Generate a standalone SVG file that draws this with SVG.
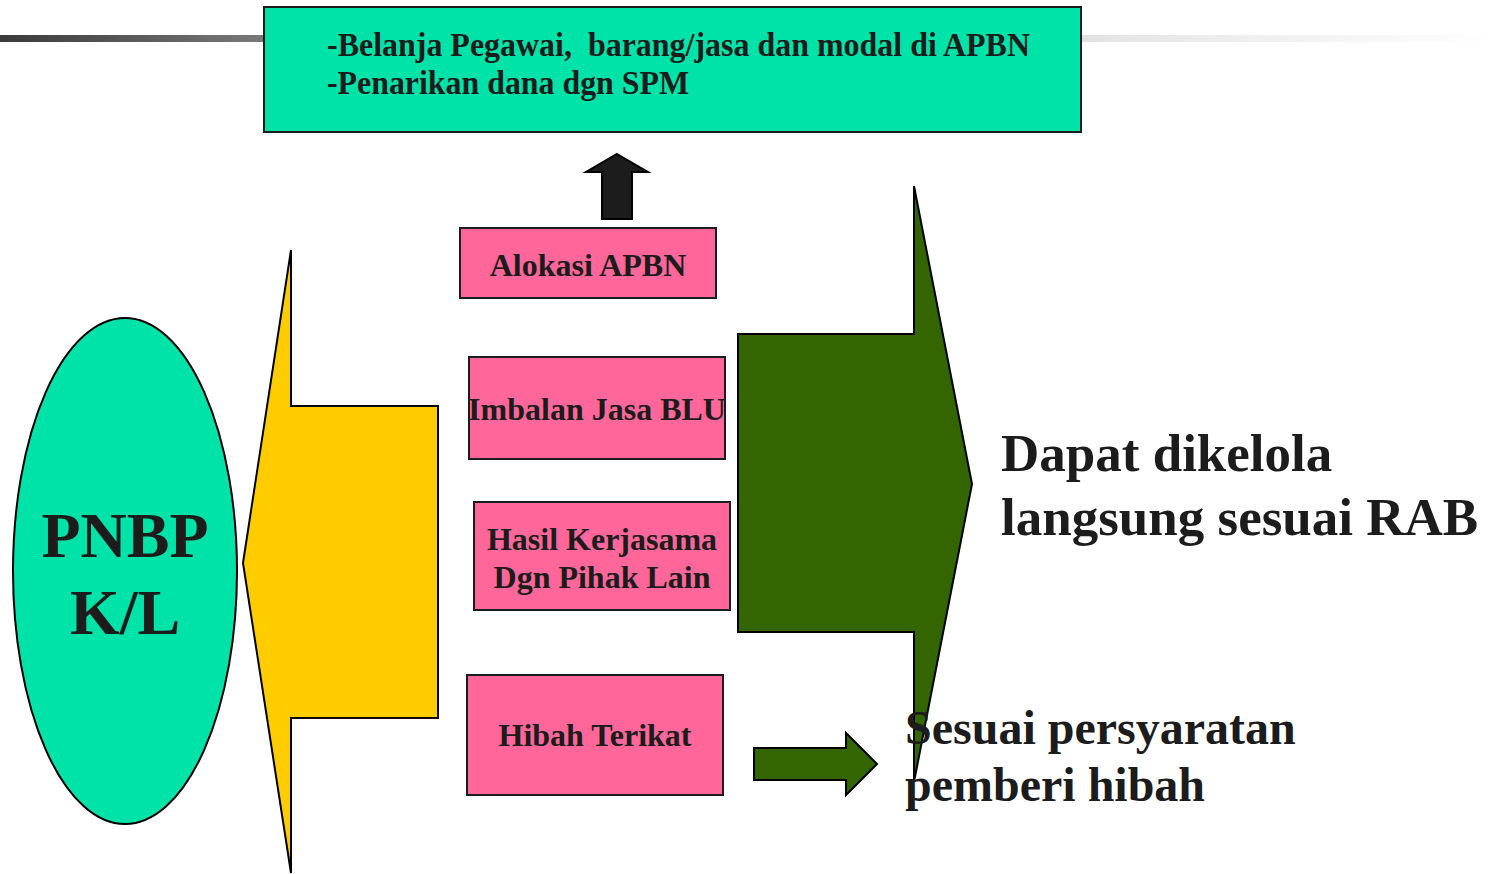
<svg xmlns="http://www.w3.org/2000/svg" width="1497" height="874" viewBox="0 0 1497 874">
<defs>
<linearGradient id="bar" x1="0" y1="0" x2="1" y2="0">
<stop offset="0" stop-color="#3a3a3a"/>
<stop offset="0.18" stop-color="#7a7a7a"/>
<stop offset="0.75" stop-color="#e6e6e6"/>
<stop offset="1" stop-color="#ffffff"/>
</linearGradient>
</defs>
<style>
.t{font-family:"Liberation Serif","Times New Roman",serif;font-weight:bold;fill:#1c1c1c}
.pink{fill:#ff6699;stroke:#1c1c1c;stroke-width:2}
.sh{stroke:#000;stroke-width:2;stroke-linejoin:miter}
</style>
<rect x="0" y="35" width="1497" height="7" fill="url(#bar)"/>
<g id="top-box">
<rect x="264" y="7" width="817" height="125" fill="#00e3a8" stroke="#1c1c1c" stroke-width="2"/>
<text class="t" x="327" y="56" font-size="33" textLength="703" lengthAdjust="spacingAndGlyphs" xml:space="preserve">-Belanja Pegawai,  barang/jasa dan modal di APBN</text>
<text class="t" x="327" y="94" font-size="33" textLength="362" lengthAdjust="spacingAndGlyphs">-Penarikan dana dgn SPM</text>
</g>
<g id="pnbp">
<ellipse cx="125" cy="571" rx="112" ry="253" fill="#00e3a8" stroke="#000" stroke-width="2"/>
<text class="t" x="125" y="557" font-size="64" text-anchor="middle">PNBP</text>
<text class="t" x="125" y="634" font-size="64" text-anchor="middle">K/L</text>
</g>
<g id="connectors">
<polygon class="sh" fill="#ffcc00" points="243,563 291,250 291,406 438,406 438,718 291,718 291,873"/>
<polygon class="sh" fill="#336600" points="738,334 914,334 914,186 972,484 914,782 914,632 738,632"/>
<polygon class="sh" fill="#1c1c1c" points="617,154 648,172 632,172 632,219 602,219 602,172 586,172"/>
<polygon class="sh" fill="#336600" points="754,748 846,748 846,733 877,764 846,795 846,780 754,780"/>
</g>
<g id="alokasi">
<rect class="pink" x="460" y="228" width="256" height="70"/>
<text class="t" x="588" y="276" font-size="32" text-anchor="middle">Alokasi APBN</text>
</g>
<g id="imbalan">
<rect class="pink" x="469" y="357" width="256" height="102"/>
<text class="t" x="597" y="420" font-size="32" text-anchor="middle">Imbalan Jasa BLU</text>
</g>
<g id="hasil">
<rect class="pink" x="474" y="502" width="256" height="108"/>
<text class="t" x="602" y="550" font-size="32" text-anchor="middle">Hasil Kerjasama</text>
<text class="t" x="602" y="588" font-size="32" text-anchor="middle">Dgn Pihak Lain</text>
</g>
<g id="hibah">
<rect class="pink" x="467" y="675" width="256" height="120"/>
<text class="t" x="595" y="746" font-size="32" text-anchor="middle">Hibah Terikat</text>
</g>
<g id="dapat">
<text class="t" x="1001" y="471" font-size="53">Dapat dikelola</text>
<text class="t" x="1001" y="535" font-size="53">langsung sesuai RAB</text>
</g>
<g id="sesuai">
<text class="t" x="905" y="744" font-size="48">Sesuai persyaratan</text>
<text class="t" x="905" y="801" font-size="48">pemberi hibah</text>
</g>
</svg>
